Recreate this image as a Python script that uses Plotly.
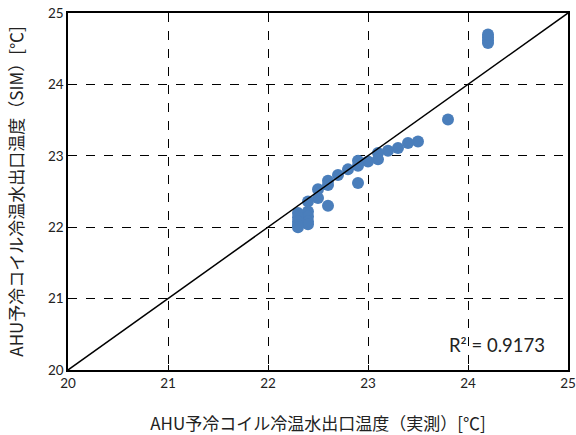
import plotly.graph_objects as go

measured = [24.2, 24.2, 24.2, 24.2, 23.8, 23.5, 23.4, 23.3, 23.2, 23.1, 23.1, 23.0,
            22.9, 22.9, 22.8, 22.7, 22.6, 22.6, 22.5, 22.5, 22.4, 22.9, 22.6,
            22.4, 22.4, 22.4, 22.4, 22.3, 22.3, 22.3, 22.3, 22.3]
simulated = [24.58, 24.62, 24.66, 24.70, 23.51, 23.20, 23.18, 23.11, 23.07, 23.04, 22.95, 22.92,
             22.93, 22.86, 22.81, 22.73, 22.65, 22.59, 22.53, 22.41, 22.36, 22.62, 22.30,
             22.22, 22.15, 22.08, 22.04, 22.20, 22.14, 22.08, 22.03, 22.00]
diag = [20, 25]
ticks = [20, 21, 22, 23, 24, 25]
r2_text = "R² = 0.9173"
x_title = "AHU予冷コイル冷温水出口温度（実測）[℃]"
y_title = "AHU予冷コイル冷温水出口温度（SIM）[℃]"

fig = go.Figure()
fig.add_trace(go.Scatter(x=measured, y=simulated, mode="markers",
                         marker=dict(color="#4A7EBB", size=12, line=dict(width=0)),
                         showlegend=False))
fig.add_trace(go.Scatter(x=diag, y=diag, mode="lines",
                         line=dict(color="black", width=1.5), showlegend=False))

axis_common = dict(range=[20, 25], tickvals=ticks, showgrid=True, gridcolor="black",
                   griddash="dash", gridwidth=1, showline=True, linecolor="black",
                   linewidth=1.5, mirror=True, ticks="inside", ticklen=5,
                   tickcolor="black", zeroline=False, automargin=False,
                   ticklabeloverflow="allow",
                   tickfont=dict(family="Lato, Noto Sans", size=13.5, color="#222"))

fig.update_xaxes(**axis_common,
                 title=dict(text=x_title, font=dict(family="Noto Sans CJK JP", size=17, color="#222"),
                            standoff=28))
fig.update_yaxes(**axis_common,
                 title=dict(text=y_title, font=dict(family="Noto Sans CJK JP", size=17, color="#222"),
                            standoff=20))

fig.add_annotation(x=24.285, y=20.35, xref="x", yref="y", text=r2_text, showarrow=False,
                   font=dict(family="Lato, Noto Sans", size=18.5, color="#222"))

fig.update_layout(width=576, height=435, plot_bgcolor="white", paper_bgcolor="white",
                  margin=dict(l=68, r=8, t=13, b=65))

fig.write_html("out.html", config={"displayModeBar": False},
               post_script="document.body.style.margin='0';")
